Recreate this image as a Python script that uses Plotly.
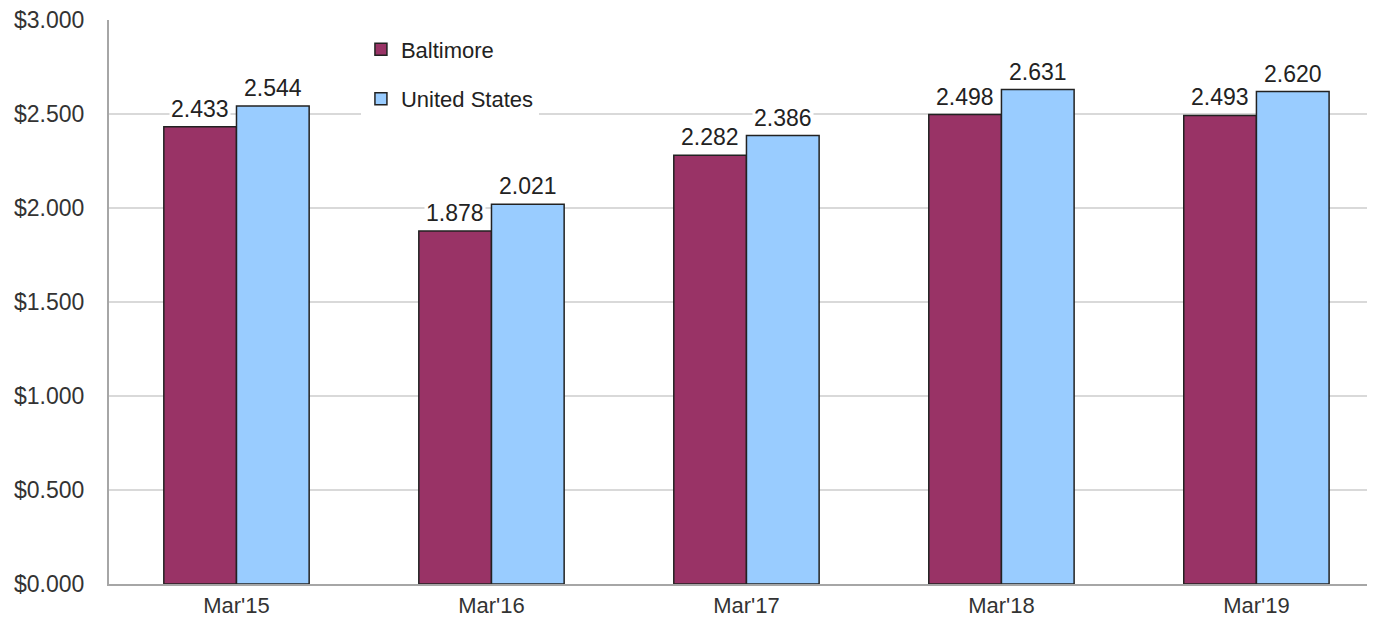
import plotly.graph_objects as go

categories = ["Mar'15", "Mar'16", "Mar'17", "Mar'18", "Mar'19"]
baltimore = [2.433, 1.878, 2.282, 2.498, 2.493]
united_states = [2.544, 2.021, 2.386, 2.631, 2.620]
series_names = ["Baltimore", "United States"]
series_colors = ["#993366", "#99CCFF"]

FONT = "Liberation Sans, Arial, sans-serif"
BARGAP = 0.43
bar_w = (1 - BARGAP) / 2
xs = list(range(len(categories)))

fig = go.Figure()
for name, vals, col in zip(series_names, [baltimore, united_states], series_colors):
    fig.add_trace(go.Bar(
        x=xs, y=vals, name=name, legendgroup=name,
        marker=dict(color=col, line=dict(color="#222222", width=1.5)),
    ))

annotations = []
for k, vals in enumerate([baltimore, united_states]):
    off = (k - 0.5) * bar_w
    for i, v in enumerate(vals):
        annotations.append(dict(
            x=i + off, y=v, xref="x", yref="y", text=f"{v:.3f}",
            showarrow=False, yanchor="bottom", yshift=3, bgcolor="white",
            font=dict(family=FONT, size=23, color="#222222"),
        ))

fig.update_layout(
    width=1367, height=614,
    margin=dict(l=101, r=0, t=12, b=38),
    paper_bgcolor="white", plot_bgcolor="white",
    barmode="group", bargap=BARGAP, bargroupgap=0,
    font=dict(family=FONT, size=22, color="#333333"),
    annotations=annotations,
    showlegend=True,
    legend=dict(
        x=0.199, y=0.985, xanchor="left", yanchor="top",
        bgcolor="white", font=dict(family=FONT, size=22, color="#222222"),
        traceorder="grouped", tracegroupgap=18,
    ),
    xaxis=dict(
        range=[-0.5, 4.465], tickmode="array", tickvals=xs, ticktext=categories,
        showgrid=False, showline=True, linecolor="#a6a6a6", linewidth=2,
        ticks="", tickfont=dict(size=22, color="#333333"), zeroline=False,
        automargin=False, ticklabelstandoff=1,
    ),
    yaxis=dict(
        range=[0, 3.001], dtick=0.5, tick0=0, tickprefix="$", tickformat=".3f",
        showgrid=True, gridcolor="#d9d9d9", gridwidth=1.5,
        showline=True, linecolor="#a6a6a6", linewidth=2,
        ticks="", ticklabelstandoff=18, zeroline=False, automargin=False,
        ticklabeloverflow="allow",
        tickfont=dict(size=23, color="#333333"),
    ),
)

fig.write_html("out.html")
